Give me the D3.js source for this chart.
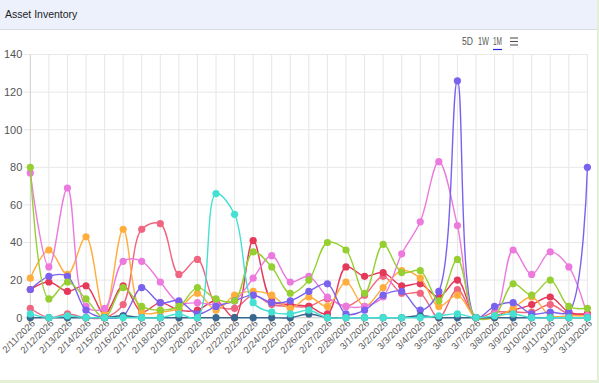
<!DOCTYPE html>
<html>
<head>
<meta charset="utf-8">
<script src="https://cdn.jsdelivr.net/npm/d3@7"></script>
<style>
  body { margin: 0; background: #e3efd6; }
  #card { position: absolute; left: 0; top: 0; width: 597px; height: 380px; background: #fff; }
  #header { height: 30px; background: #edf1fc; border-bottom: 1px solid #d9dce6; box-sizing: border-box; }
  #header span { position: absolute; left: 5px; top: 8px; font-family: "Liberation Sans", Arial, sans-serif; font-size: 10.5px; color: #222; }
  svg { position: absolute; left: 0; top: 0; }
</style>
</head>
<body>
<div id="card">
  <div id="header"><span>Asset Inventory</span></div>
</div>
<svg id="chart" width="597" height="380"></svg>
<script>
var dates = ["2/11/2026","2/12/2026","2/13/2026","2/14/2026","2/15/2026","2/16/2026","2/17/2026","2/18/2026","2/19/2026","2/20/2026",
             "2/21/2026","2/22/2026","2/23/2026","2/24/2026","2/25/2026","2/26/2026","2/27/2026","2/28/2026","3/1/2026","3/2/2026",
             "3/3/2026","3/4/2026","3/5/2026","3/6/2026","3/7/2026","3/8/2026","3/9/2026","3/10/2026","3/11/2026","3/12/2026","3/13/2026"]
var yTicks = [0, 20, 40, 60, 80, 100, 120, 140]

var salmonVals = [5, 0, 2, 0, 0, 7, 47, 50, 23, 31, 7, 5, 12, 7, 6, 6, 10, 6, 12, 22, 13, 13, 0, 15, 0, 3, 3, 3, 7, 2, 2]
var redVals    = [15, 19, 14, 17, 2, 17, 3, 8, 4, 4, 9, 0, 41, 9, 7, 6, 2, 27, 22, 24, 17, 18, 11, 20, 0, 1, 4, 7, 11, 3, 2]
var orangeVals = [21, 36, 23, 43, 2, 47, 3, 3, 5, 13, 4, 12, 14, 12, 5, 11, 6, 19, 6, 16, 25, 21, 6, 12, 0, 0, 5, 11, 1, 1, 1]
var pinkVals   = [77, 27, 69, 6, 5, 30, 30, 19, 8, 8, 7, 9, 21, 33, 19, 22, 11, 6, 6, 11, 34, 51, 83, 49, 0, 2, 36, 23, 35, 27, 1]
var purpleVals = [15, 22, 22, 4, 0, 1, 16, 8, 9, 2, 6, 9, 12, 8, 9, 14, 18, 2, 4, 12, 14, 4, 14, 126, 0, 6, 8, 2, 3, 3, 80]
var greenVals  = [80, 10, 19, 10, 0, 16, 6, 4, 6, 16, 10, 9, 35, 27, 13, 20, 40, 36, 13, 39, 24, 25, 9, 31, 0, 1, 18, 12, 20, 6, 5]
var darkVals   = [0, 0, 0, 0, 0, 1, 0, 0, 0, 0, 0, 0, 0, 0, 0, 2, 0, 0, 0, 0, 0, 1, 0, 0, 0, 0, 0, 0, 0, 0, 0]
var tealVals   = [2, 0, 1, 0, 0, 0, 0, 0, 2, 0, 66, 55, 8, 3, 2, 4, 0, 0, 0, 0, 0, 0, 1, 2, 0, 1, 2, 0, 0, 0, 0]

var seriesList = [
    {values: salmonVals, color: "#f0657f"},
    {values: redVals, color: "#e5395a"},
    {values: orangeVals, color: "#ffae3d"},
    {values: pinkVals, color: "#ec79de"},
    {values: purpleVals, color: "#7b62ee"},
    {values: greenVals, color: "#96cf32"},
    {values: darkVals, color: "#386890"},
    {values: tealVals, color: "#44e0d2"}
]

var dimensions = {
    width: 597,
    height: 380,
    margin: { top: 54.5, bottom: 62.3, left: 30.3, right: 9.6 }
}

var svg = d3.select("#chart")

var xScale = d3.scalePoint()
    .domain(dates)
    .range([dimensions.margin.left, dimensions.width - dimensions.margin.right])

var yScale = d3.scaleLinear()
    .domain([0, 140])
    .range([dimensions.height - dimensions.margin.bottom, dimensions.margin.top])

// grid
svg.append("g")
    .selectAll("line")
    .data(yTicks)
    .enter()
    .append("line")
    .attr("x1", dimensions.margin.left - 7)
    .attr("x2", dimensions.width - dimensions.margin.right)
    .attr("y1", d => yScale(d))
    .attr("y2", d => yScale(d))
    .attr("stroke", "#e8e8e8")

svg.append("g")
    .selectAll("line")
    .data(dates)
    .enter()
    .append("line")
    .attr("x1", d => xScale(d))
    .attr("x2", d => xScale(d))
    .attr("y1", yScale(140))
    .attr("y2", yScale(0))
    .attr("stroke", (d, i) => i == 0 ? "#cfcfcf" : "#e6e6e6")

// y labels
svg.append("g")
    .selectAll("text")
    .data(yTicks)
    .enter()
    .append("text")
    .attr("x", dimensions.margin.left - 8)
    .attr("y", d => yScale(d))
    .attr("dy", "0.35em")
    .attr("text-anchor", "end")
    .style("font-family", "Liberation Sans, Arial, sans-serif")
    .style("font-size", "11px")
    .style("fill", "#555")
    .text(d => d)

// x labels
svg.append("g")
    .selectAll("text")
    .data(dates)
    .enter()
    .append("text")
    .attr("transform", d => `translate(${xScale(d) + 3}, ${yScale(0) + 4}) rotate(-45)`)
    .attr("text-anchor", "end")
    .attr("dy", "0.35em")
    .style("font-family", "Liberation Sans, Arial, sans-serif")
    .style("font-size", "9.5px")
    .style("fill", "#5a5a5a")
    .text(d => d)

svg.append("line")
    .attr("x1", dimensions.margin.left)
    .attr("x2", dimensions.width - dimensions.margin.right)
    .attr("y1", yScale(0))
    .attr("y2", yScale(0))
    .attr("stroke", "#cfcfcf")

var lineGen = d3.line()
    .x((d, i) => xScale(dates[i]))
    .y(d => yScale(d))
    .curve(d3.curveCatmullRom.alpha(0.5))

var groups = svg.append("g")
    .selectAll("g")
    .data(seriesList)
    .enter()
    .append("g")

groups.append("path")
    .attr("d", s => lineGen(s.values))
    .attr("fill", "none")
    .attr("stroke", s => s.color)
    .attr("stroke-width", 1.4)

groups.selectAll("circle")
    .data(s => s.values.map(v => ({v: v, color: s.color})))
    .enter()
    .append("circle")
    .attr("cx", (d, i) => xScale(dates[i]))
    .attr("cy", d => yScale(d.v))
    .attr("r", 3.6)
    .attr("fill", d => d.color)

// toolbar
var tools = ["5D", "1W", "1M"]
var toolX = [462, 478, 493]
var toolW = [11, 11, 9]
svg.append("g")
    .selectAll("text")
    .data(tools)
    .enter()
    .append("text")
    .attr("x", (d, i) => toolX[i])
    .attr("y", 45)
    .attr("textLength", (d, i) => toolW[i])
    .attr("lengthAdjust", "spacingAndGlyphs")
    .style("font-family", "Liberation Sans, Arial, sans-serif")
    .style("font-size", "10px")
    .style("fill", "#555")
    .text(d => d)

svg.append("line")
    .attr("x1", 493).attr("x2", 502)
    .attr("y1", 49.5).attr("y2", 49.5)
    .attr("stroke", "#2222dd").attr("stroke-width", 1.2)

svg.append("g")
    .selectAll("line")
    .data([38, 41.5, 45])
    .enter()
    .append("line")
    .attr("x1", 510).attr("x2", 518)
    .attr("y1", d => d).attr("y2", d => d)
    .attr("stroke", "#555").attr("stroke-width", 1.1)
</script>
</body>
</html>
